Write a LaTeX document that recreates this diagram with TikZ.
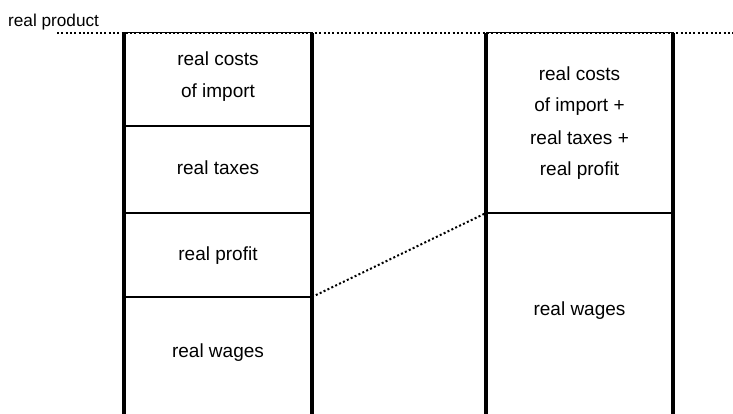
\documentclass[tikz,border=0pt]{standalone}
\usepackage{fontspec}
\setmainfont{Liberation Sans}
\usetikzlibrary{positioning}
\tikzset{
    col/.style={line width=3.3pt},
    sep/.style={line width=2.2pt},
    rim/.style={line width=1pt},
    level/.style={line width=2pt, dash pattern=on 2pt off 2.3pt},
    lbl/.style={font=\fontsize{19}{32}\selectfont, align=center, anchor=base, inner sep=0pt}
}
\begin{document}
\begin{tikzpicture}[x=1pt,y=-1pt]
	\useasboundingbox (0,0) rectangle (733,414);

	% left column
	\coordinate (l-nw) at (124,33);
	\coordinate (l-ne) at (312,33);
	\coordinate (l-sw) at (124,414);
	\coordinate (l-se) at (312,414);
	\coordinate (l-a1) at (124,126);
	\coordinate (l-a2) at (312,126);
	\coordinate (l-b1) at (124,213);
	\coordinate (l-b2) at (312,213);
	\coordinate (l-c1) at (124,297);
	\coordinate (l-c2) at (312,297);

	% right column
	\coordinate (r-nw) at (486,33);
	\coordinate (r-ne) at (673,33);
	\coordinate (r-sw) at (486,414);
	\coordinate (r-se) at (673,414);
	\coordinate (r-a1) at (486,213);
	\coordinate (r-a2) at (673,213);

	\draw[rim] (l-nw) -- (l-ne) (r-nw) -- (r-ne);
	\draw[col] (l-nw) -- (l-sw) (l-ne) -- (l-se);
	\draw[col] (r-nw) -- (r-sw) (r-ne) -- (r-se);
	\draw[sep] (l-a1) -- (l-a2) (l-b1) -- (l-b2) (l-c1) -- (l-c2);
	\draw[sep] (r-a1) -- (r-a2);

	% level of the real product
	\coordinate (top-w) at (57,33);
	\coordinate (top-e) at (733,33);
	\draw[level] (top-w) -- (top-e);
	\node[font=\fontsize{17.2}{20}\selectfont, anchor=base west, inner sep=0pt] (product) at (8,26.5) {real product};

	\draw[level] (l-c2) -- (r-a1);

	% texts (base = last line)
	\node[lbl] (l-import) at (218,98) {real costs\\of import};
	\node[lbl] (l-taxes) at (218,175) {real taxes};
	\node[lbl] (l-profit) at (218,260) {real profit};
	\node[lbl] (l-wages) at (218,357) {real wages};

	\node[lbl] (r-rest) at (579.5,176) {real costs\\of import +\\real taxes +\\real profit};
	\node[lbl] (r-wages) at (579.5,315) {real wages};
\end{tikzpicture}
\end{document}
